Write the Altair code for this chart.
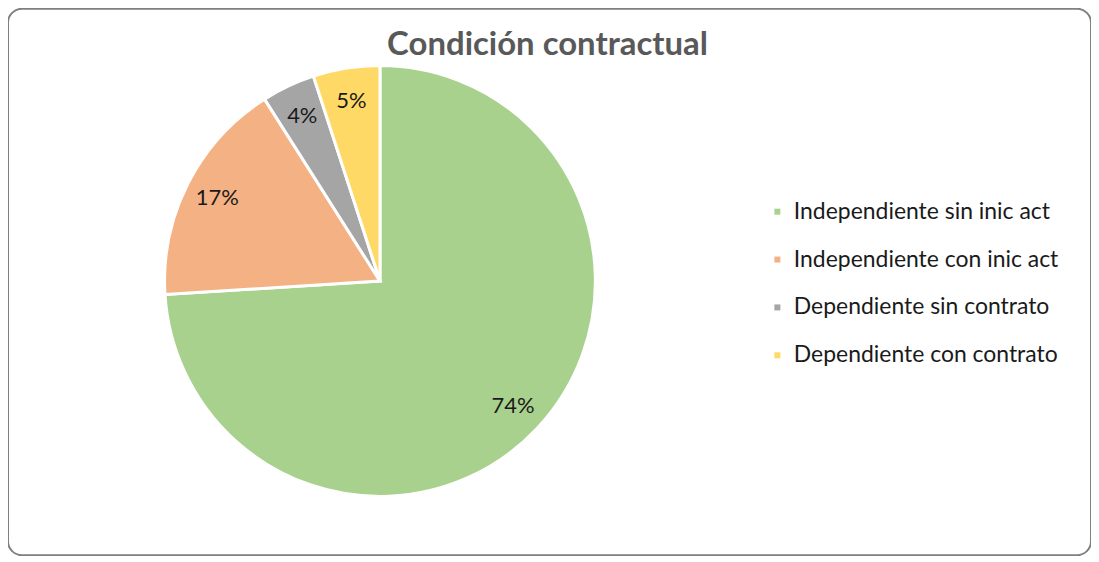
import altair as alt
import pandas as pd

categorias = ["Independiente sin inic act", "Independiente con inic act",
              "Dependiente sin contrato", "Dependiente con contrato"]
porcentajes = [74, 17, 4, 5]
etiquetas = ["74%", "17%", "4%", "5%"]
colores = ["#A9D18E", "#F4B183", "#A5A5A5", "#FFD966"]
titulo = "Condición contractual"

df = pd.DataFrame({
    "categoria": categorias,
    "valor": porcentajes,
    "etiqueta": etiquetas,
    "orden": list(range(len(categorias))),
})

CX, CY = 373, 273

base = alt.Chart(df).encode(
    theta=alt.Theta("valor:Q", stack=True),
    order=alt.Order("orden:Q"),
    x=alt.value(CX),
    y=alt.value(CY),
)

arcs = base.mark_arc(outerRadius=216, stroke="white", strokeWidth=3).encode(
    color=alt.Color(
        "categoria:N",
        scale=alt.Scale(domain=categorias, range=colores),
        legend=alt.Legend(
            title=None,
            orient="none",
            legendX=760,
            legendY=192,
            symbolType="square",
            symbolSize=36,
            symbolStrokeWidth=0,
            labelFont="Lato",
            labelFontSize=23,
            labelColor="#1a1a1a",
            labelOffset=5,
            rowPadding=24,
            labelLimit=400,
        ),
    )
)

labels = base.mark_text(radius=183, font="Lato", fontSize=22, color="#1a1a1a").encode(
    text="etiqueta:N"
)

title_df = pd.DataFrame({"t": [titulo]})
title_mark = alt.Chart(title_df).mark_text(
    font="Lato", fontSize=33, fontWeight="bold", color="#595959", baseline="middle"
).encode(text="t:N", x=alt.value(541), y=alt.value(36))

chart = alt.layer(arcs, labels, title_mark).properties(
    width=1086, height=548, padding=0, autosize="none", background="white"
).configure_view(stroke="#808080", strokeWidth=2, cornerRadius=14)

chart.save("out.html", embed_options={"renderer": "svg", "actions": False})
